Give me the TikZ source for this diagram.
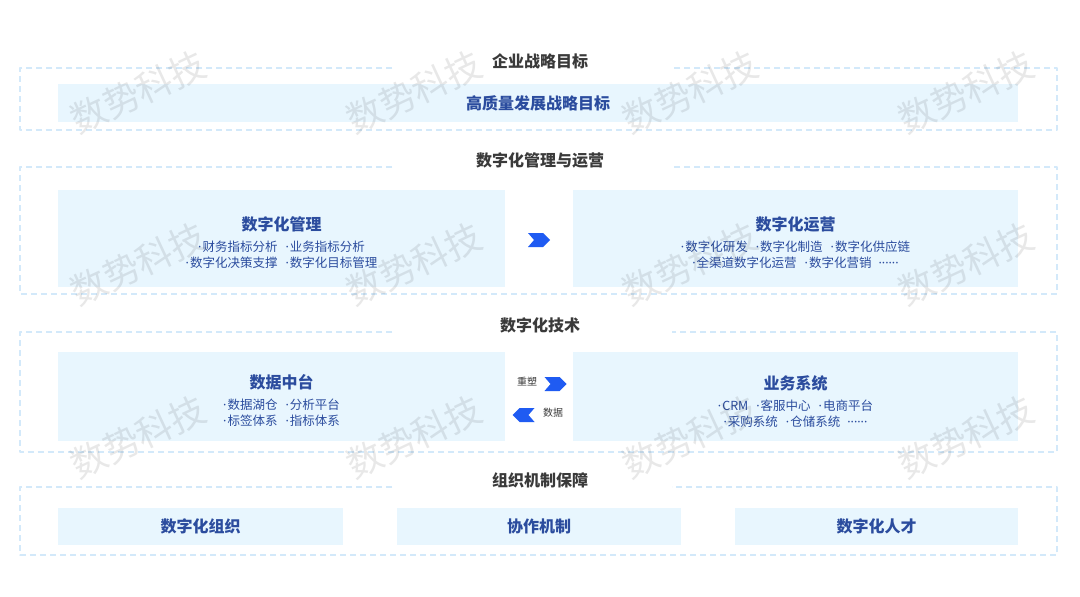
\documentclass[tikz,border=0pt]{standalone}
\usepackage{fontspec}
\setmainfont{Noto Sans CJK SC}
\newfontfamily\latinfont{Noto Sans}
\usetikzlibrary{calc}
\definecolor{dashblue}{HTML}{D3E9FA}
\definecolor{boxfill}{HTML}{E8F6FE}
\definecolor{textblue}{HTML}{2B4C9E}
\definecolor{titlegray}{HTML}{3A3A3A}
\definecolor{chevblue}{HTML}{1F5BF2}
\tikzset{
  frame/.style={draw=dashblue, line width=1.1pt, dash pattern=on 6pt off 4pt},
  secttitle/.style={text=titlegray, font=\bfseries\fontsize{16}{18}\selectfont},
  panel/.style={fill=boxfill, draw=none, inner sep=0pt},
  paneltext/.style={text=textblue, align=center, inner sep=0pt, font=\fontsize{12.5}{16}\selectfont},
  smalltext/.style={text=titlegray, font=\fontsize{10}{12}\selectfont, inner sep=0pt},
  chev/.pic={\fill[chevblue] (-11,-7) -- (4,-7) -- (11,0) -- (4,7) -- (-11,7) -- (-5,0) -- cycle;}
}
\newcommand{\ptitle}[1]{{\bfseries\fontsize{16}{18}\selectfont #1}}
\newcommand{\itm}[1]{{\latinfont ·\hspace{1pt}}#1}
\newcommand{\gap}{\hspace{8pt}}
\newcommand{\more}{{\latinfont\hspace{7pt}······}}
\begin{document}
\begin{tikzpicture}[x=1pt, y=-1pt, line join=round]
  \useasboundingbox[fill=white] (0,0) rectangle (1080,597);
  \def\xl{20} \def\xr{1057} \def\gl{392} \def\gr{672} % frame edges and title gap
  % dashed section frames
  \foreach \yt/\yb in {68/130, 167/294, 332/452, 487/555}
    \draw[frame] (\gl,\yt) -- (\xl,\yt) -- (\xl,\yb) -- (\xr,\yb) -- (\xr,\yt) -- (\gr,\yt);
  % section titles
  \node[secttitle] (t1) at (540,61) {企业战略目标};
  \node[secttitle] (t2) at (540,160) {数字化管理与运营};
  \node[secttitle] (t3) at (540,325) {数字化技术};
  \node[secttitle] (t4) at (540,480) {组织机制保障};
  % strategy
  \node[panel, minimum width=960, minimum height=38] (goal) at (538,103) {};
  \node[paneltext] (goalT) at (goal) {\ptitle{高质量发展战略目标}};
  % management and operation
  \node[panel, minimum width=447, minimum height=97] (mgmt) at (281.5,238.5) {};
  \node[panel, minimum width=445, minimum height=97] (ops) at (795.5,238.5) {};
  \node[paneltext] (mgmtT) at ($(mgmt)+(0,4)$) {\ptitle{数字化管理}\\[5pt]
    \itm{财务指标分析}\gap\itm{业务指标分析}\\ \itm{数字化决策支撑}\gap\itm{数字化目标管理}};
  \node[paneltext] (opsT) at ($(ops)+(0,4)$) {\ptitle{数字化运营}\\[5pt]
    \itm{数字化研发}\gap\itm{数字化制造}\gap\itm{数字化供应链}\\ \itm{全渠道数字化运营}\gap\itm{数字化营销}\more};
  \pic at ($(mgmt.east)!0.5!(ops.west)+(0,1.5)$) {chev};
  % technology
  \node[panel, minimum width=447, minimum height=89] (data) at (281.5,396.5) {};
  \node[panel, minimum width=445, minimum height=89] (biz) at (795.5,396.5) {};
  \node[paneltext] (dataT) at ($(data)+(0,4)$) {\ptitle{数据中台}\\[5pt]
    \itm{数据湖仓}\gap\itm{分析平台}\\ \itm{标签体系}\gap\itm{指标体系}};
  \node[paneltext] (bizT) at ($(biz)+(0,5)$) {\ptitle{业务系统}\\[5pt]
    \itm{CRM}\gap\itm{客服中心}\gap\itm{电商平台}\\ \itm{采购系统}\gap\itm{仓储系统}\more};
  \coordinate (mid) at ($(data.east)!0.5!(biz.west)$);
  \pic at ($(mid)+(16.5,-12.5)$) {chev};
  \pic[xscale=-1] at ($(mid)+(-15.5,18.5)$) {chev};
  \node[smalltext] (reshape) at ($(mid)+(-12,-15)$) {重塑};
  \node[smalltext] (feed) at ($(mid)+(14,16)$) {数据};
  % organisation
  \node[panel, minimum width=285, minimum height=37] (org) at (200.5,526.5) {};
  \node[panel, minimum width=284, minimum height=37] (coop) at (539,526.5) {};
  \node[panel, minimum width=283, minimum height=37] (talent) at (876.5,526.5) {};
  \node[paneltext] (orgT) at (org) {\ptitle{数字化组织}};
  \node[paneltext] (coopT) at (coop) {\ptitle{协作机制}};
  \node[paneltext] (talentT) at (talent) {\ptitle{数字化人才}};
  % watermark
  \foreach \wx in {138,414,690,966}
    \foreach \wy in {92,264,437}
      \node[rotate=25, text=black, opacity=0.09, font=\fontsize{36}{40}\selectfont] at (\wx,\wy) {数势科技};
\end{tikzpicture}
\end{document}
